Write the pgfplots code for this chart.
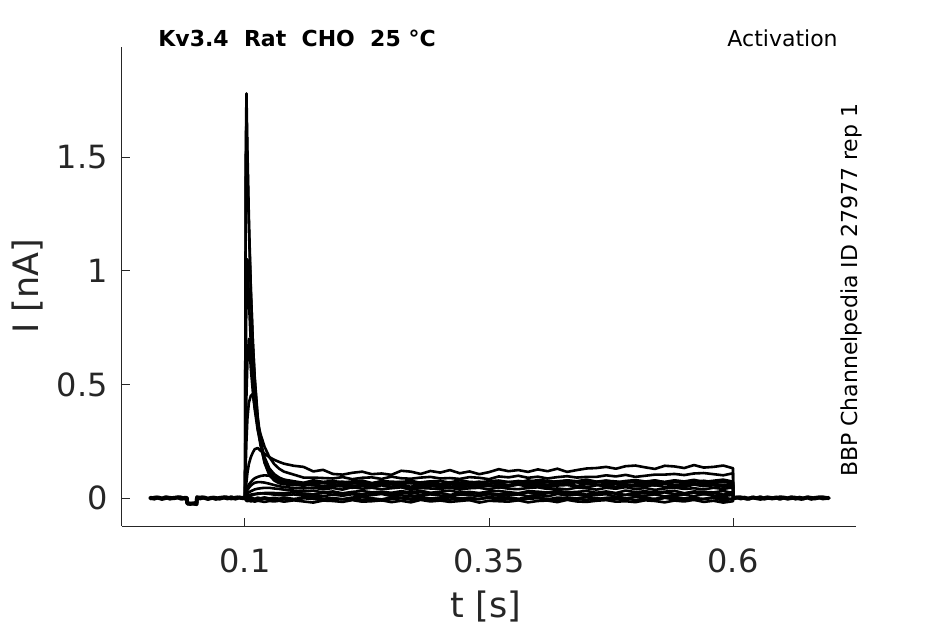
\documentclass[border=0pt]{standalone}
\usepackage{fontspec}
\setmainfont{DejaVu Sans}
\usepackage{pgfplots}
\usepackage{pgfplotstable}
\pgfplotsset{compat=1.18}
\definecolor{axgray}{HTML}{262626}

\pgfplotstableread{
t      a      b      c      d      e      f      g      h      i      j      k      l      m      n
0.1000 0      0      0      0      0      0      0      0      0      0      0      0      0      0
0.1008 1.50   1.40   0.60   0.30   0.15   0.04   0.02   0.01   0.005  0.002  -0.009 0.015  0.004  -0.003
0.1015 1.78   1.70   0.90   0.45   0.25   0.07   0.03   0.015  0.008  -0.003 -0.012 0.025  0.006  -0.005
0.1025 1.53   1.48   1.05   0.60   0.35   0.11   0.045  0.02   0.01   0.001  -0.014 0.035  0.008  -0.004
0.1040 1.23   1.19   0.87   0.70   0.42   0.15   0.06   0.025  0.012  -0.002 -0.011 0.045  0.010  -0.006
0.1060 0.92   0.91   0.68   0.57   0.45   0.18   0.07   0.03   0.015  0.003  -0.015 0.055  0.012  -0.005
0.1080 0.69   0.69   0.54   0.47   0.458  0.20   0.08   0.034  0.017  0      -0.013 0.062  0.014  -0.007
0.1100 0.52   0.53   0.43   0.39   0.40   0.215  0.087  0.038  0.018  -0.004 -0.016 0.067  0.016  -0.004
0.1130 0.35   0.36   0.31   0.30   0.33   0.22   0.093  0.041  0.02   0.002  -0.012 0.07   0.018  -0.006
0.1160 0.24   0.255  0.23   0.24   0.28   0.208  0.097  0.043  0.021  -0.001 -0.014 0.07   0.02   -0.005
0.1200 0.155  0.17   0.16   0.18   0.226  0.195  0.10   0.045  0.02   0.003  -0.017 0.068  0.022  -0.003
0.1250 0.10   0.11   0.115  0.13   0.18   0.18   0.098  0.045  0.018  -0.002 -0.013 0.063  0.023  -0.006
0.1300 0.077  0.085  0.09   0.105  0.149  0.168  0.093  0.042  0.015  0.001  -0.015 0.057  0.022  -0.004
0.1350 0.065  0.072  0.078  0.09   0.129  0.159  0.087  0.04   0.013  -0.003 -0.012 0.052  0.021  -0.007
0.1400 0.060  0.066  0.072  0.081  0.116  0.151  0.08   0.037  0.012  0.002  -0.016 0.048  0.021  -0.005
0.15 0.059 0.062 0.069 0.074 0.103 0.142 0.070 0.033 0.016 -0.004 -0.010 0.045 0.026 -0.009
0.16 0.054 0.057 0.065 0.067 0.090 0.137 0.060 0.029 0.010 0.001 -0.015 0.042 0.019 -0.001
0.17 0.061 0.064 0.073 0.078 0.090 0.117 0.057 0.033 0.013 0.006 -0.020 0.046 0.017 -0.004
0.18 0.052 0.066 0.066 0.071 0.088 0.124 0.046 0.024 0.008 -0.003 -0.011 0.038 0.022 -0.010
0.19 0.057 0.061 0.068 0.075 0.086 0.106 0.054 0.029 0.015 0.000 -0.013 0.044 0.025 -0.002
0.20 0.062 0.056 0.072 0.069 0.092 0.103 0.051 0.021 0.010 -0.005 -0.017 0.037 0.018 -0.006
0.21 0.053 0.065 0.064 0.073 0.083 0.111 0.045 0.027 0.017 0.002 -0.009 0.048 0.020 0.001
0.22 0.056 0.063 0.070 0.077 0.089 0.116 0.053 0.031 0.008 0.004 -0.016 0.041 0.016 -0.008
0.23 0.051 0.059 0.063 0.066 0.091 0.105 0.049 0.025 0.013 -0.001 -0.014 0.045 0.024 -0.003
0.24 0.058 0.067 0.074 0.074 0.084 0.108 0.056 0.028 0.018 -0.006 -0.010 0.039 0.021 -0.011
0.25 0.060 0.060 0.067 0.072 0.094 0.102 0.047 0.023 0.009 0.003 -0.018 0.043 0.015 -0.005
0.26 0.055 0.062 0.071 0.070 0.087 0.120 0.052 0.030 0.012 0.001 -0.012 0.047 0.023 -0.001
0.27 0.050 0.066 0.065 0.076 0.085 0.116 0.044 0.025 0.007 -0.003 -0.019 0.036 0.019 -0.007
0.28 0.059 0.058 0.069 0.067 0.090 0.106 0.050 0.032 0.014 0.005 -0.008 0.044 0.026 -0.004
0.29 0.057 0.064 0.073 0.073 0.093 0.119 0.054 0.023 0.016 -0.002 -0.015 0.042 0.017 -0.009
0.30 0.053 0.057 0.062 0.075 0.086 0.112 0.048 0.028 0.011 0.000 -0.011 0.040 0.022 -0.002
0.31 0.061 0.068 0.070 0.068 0.088 0.123 0.051 0.033 0.006 0.004 -0.017 0.046 0.014 -0.007
0.32 0.054 0.061 0.068 0.078 0.084 0.109 0.046 0.024 0.015 -0.004 -0.013 0.037 0.020 0.000
0.33 0.056 0.065 0.066 0.071 0.092 0.117 0.053 0.027 0.013 0.002 -0.009 0.043 0.024 -0.009
0.34 0.060 0.059 0.072 0.069 0.089 0.105 0.048 0.022 0.009 -0.005 -0.020 0.045 0.018 -0.004
0.35 0.052 0.063 0.063 0.074 0.083 0.114 0.055 0.029 0.017 0.006 -0.012 0.038 0.021 0.001
0.36 0.058 0.067 0.069 0.077 0.095 0.127 0.046 0.031 0.010 -0.001 -0.014 0.048 0.016 -0.008
0.37 0.051 0.056 0.071 0.070 0.091 0.118 0.051 0.026 0.012 0.003 -0.016 0.041 0.023 -0.005
0.38 0.065 0.068 0.068 0.075 0.098 0.123 0.059 0.021 0.016 -0.003 -0.010 0.039 0.018 -0.010
0.39 0.058 0.066 0.078 0.071 0.089 0.115 0.050 0.030 0.008 0.001 -0.019 0.044 0.025 -0.003
0.40 0.062 0.064 0.071 0.079 0.094 0.126 0.053 0.028 0.014 0.005 -0.013 0.047 0.016 -0.001
0.41 0.056 0.070 0.069 0.076 0.086 0.118 0.048 0.024 0.007 -0.006 -0.011 0.040 0.021 -0.006
0.42 0.060 0.061 0.074 0.070 0.092 0.129 0.055 0.032 0.018 0.002 -0.018 0.042 0.026 -0.011
0.43 0.064 0.067 0.077 0.078 0.096 0.115 0.057 0.025 0.011 0.000 -0.008 0.038 0.017 -0.002
0.44 0.053 0.069 0.070 0.074 0.090 0.123 0.052 0.027 0.015 -0.002 -0.015 0.046 0.020 -0.004
0.45 0.061 0.062 0.072 0.081 0.093 0.130 0.047 0.031 0.009 0.004 -0.017 0.043 0.015 -0.008
0.46 0.059 0.072 0.068 0.072 0.093 0.132 0.056 0.023 0.013 -0.005 -0.012 0.037 0.022 0.000
0.47 0.057 0.065 0.076 0.077 0.100 0.137 0.054 0.029 0.017 0.001 -0.009 0.045 0.024 -0.007
0.48 0.063 0.063 0.073 0.069 0.095 0.129 0.050 0.022 0.006 0.003 -0.016 0.041 0.019 -0.005
0.49 0.054 0.068 0.067 0.075 0.102 0.140 0.058 0.033 0.014 -0.004 -0.014 0.048 0.014 -0.001
0.50 0.060 0.071 0.075 0.079 0.093 0.143 0.051 0.026 0.012 0.006 -0.018 0.039 0.023 -0.009
0.51 0.062 0.064 0.071 0.073 0.098 0.135 0.053 0.030 0.010 -0.001 -0.010 0.044 0.021 -0.003
0.52 0.055 0.066 0.078 0.076 0.103 0.128 0.057 0.024 0.016 -0.003 -0.013 0.036 0.017 -0.010
0.53 0.065 0.062 0.069 0.071 0.103 0.142 0.049 0.028 0.007 0.002 -0.019 0.042 0.025 0.001
0.54 0.058 0.070 0.074 0.078 0.106 0.139 0.055 0.032 0.013 0.005 -0.011 0.046 0.018 -0.006
0.55 0.056 0.067 0.066 0.073 0.101 0.132 0.048 0.021 0.015 -0.002 -0.015 0.040 0.020 -0.002
0.56 0.061 0.061 0.072 0.080 0.108 0.145 0.059 0.029 0.008 0.000 -0.008 0.043 0.024 -0.008
0.57 0.064 0.069 0.076 0.071 0.110 0.134 0.052 0.027 0.018 -0.004 -0.017 0.038 0.016 -0.004
0.58 0.057 0.065 0.070 0.076 0.105 0.137 0.056 0.025 0.011 0.004 -0.012 0.045 0.022 0.000
0.59 0.059 0.072 0.073 0.081 0.100 0.143 0.050 0.031 0.009 0.001 -0.020 0.040 0.015 -0.011
0.60 0.055 0.063 0.068 0.072 0.109 0.131 0.054 0.022 0.014 -0.005 -0.014 0.047 0.026 -0.003
0.6001 0    0     0     0     0     0     0     0     0     0     0      0     0     0
}\traces

\begin{document}
\begin{tikzpicture}
\useasboundingbox (-61bp,-49bp) rectangle (411.5bp,263bp);
\begin{axis}[
  at={(0,0)}, anchor=south west,
  scale only axis, width=367bp, height=239.5bp,
  xmin=-0.026, xmax=0.726, ymin=-0.123, ymax=1.984,
  axis x line*=bottom, axis y line*=left,
  axis line style={color=axgray, line width=0.5bp, -},
  xtick={0.1,0.35,0.6}, ytick={0,0.5,1,1.5},
  tick align=inside, major tick length=4bp,
  every tick/.style={color=axgray, line width=0.5bp},
  /pgf/number format/assume math mode=true,
  tick label style={font=\fontsize{16bp}{19bp}\selectfont, text=axgray},
  xticklabel style={anchor=base, yshift=-23bp, inner sep=0pt},
  yticklabel style={anchor=east, inner sep=0pt, xshift=-7bp},
  xlabel={t [s]}, ylabel={I [nA]},
  label style={font=\fontsize{17.5bp}{21bp}\selectfont, text=axgray, inner sep=0pt},
  xlabel style={at={(axis description cs:0.496,0)}, anchor=base, yshift=-45.5bp},
  ylabel style={at={(axis description cs:-0.1144,0.5)}, anchor=base},
  clip=false,
  tr/.style={black, solid, line width=1.3bp, line join=round, mark=none},
  bl/.style={black, solid, line width=1.9bp, line join=round, line cap=round, mark=none},
]
\addplot[tr] table[x=t,y=n] {\traces};
\addplot[tr] table[x=t,y=k] {\traces};
\addplot[tr] table[x=t,y=j] {\traces};
\addplot[tr] table[x=t,y=i] {\traces};
\addplot[tr] table[x=t,y=m] {\traces};
\addplot[tr] table[x=t,y=h] {\traces};
\addplot[tr] table[x=t,y=l] {\traces};
\addplot[tr] table[x=t,y=g] {\traces};
\addplot[tr] table[x=t,y=a] {\traces};
\addplot[tr] table[x=t,y=b] {\traces};
\addplot[tr] table[x=t,y=c] {\traces};
\addplot[tr] table[x=t,y=d] {\traces};
\addplot[tr] table[x=t,y=e] {\traces};
\addplot[tr] table[x=t,y=f] {\traces};
% baseline before the pulse
\addplot[bl] coordinates {
(0.003,0.002) (0.007,-0.003) (0.011,0.003) (0.015,-0.002) (0.019,0.004) (0.023,-0.003)
(0.027,0.001) (0.031,0.003) (0.035,-0.004) (0.039,0.002) (0.0405,0.0) (0.0408,-0.022)
(0.044,-0.026) (0.048,-0.023) (0.0505,-0.020) (0.0508,0.004) (0.054,-0.002) (0.058,0.003)
(0.062,-0.003) (0.066,0.002) (0.070,-0.004) (0.074,0.001) (0.078,0.003) (0.082,-0.002)
(0.086,0.004) (0.090,-0.003) (0.094,0.002) (0.098,-0.001) (0.1,0.0)};
\addplot[bl] coordinates {
(0.003,-0.002) (0.009,0.003) (0.015,-0.004) (0.021,0.002) (0.027,-0.001) (0.033,0.004)
(0.039,-0.003) (0.0405,-0.001) (0.0408,-0.025) (0.046,-0.024) (0.0505,-0.027) (0.0508,0.001)
(0.056,0.003) (0.062,-0.004) (0.068,0.002) (0.074,-0.003) (0.080,0.004) (0.086,-0.002)
(0.092,0.003) (0.1,0.0)};
% baseline after the pulse
\addplot[bl] coordinates {
(0.6001,0.0) (0.604,0.003) (0.608,-0.002) (0.612,0.002) (0.616,-0.004) (0.620,0.003)
(0.624,-0.001) (0.628,0.004) (0.632,-0.003) (0.636,0.001) (0.640,-0.002) (0.644,0.003)
(0.648,-0.004) (0.652,0.002) (0.656,-0.001) (0.660,0.004) (0.664,-0.003) (0.668,0.002)
(0.672,-0.002) (0.676,0.003) (0.680,-0.004) (0.684,0.001) (0.688,0.003) (0.692,-0.002)
(0.698,0.001)};
\addplot[bl] coordinates {
(0.6001,-0.002) (0.607,0.004) (0.614,-0.003) (0.621,0.002) (0.628,-0.004) (0.635,0.003)
(0.642,-0.001) (0.649,0.004) (0.656,-0.003) (0.663,0.002) (0.670,-0.004) (0.677,0.003)
(0.684,-0.002) (0.691,0.004) (0.698,-0.001)};
\node[anchor=base west, inner sep=0pt, font=\bfseries\fontsize{11bp}{13bp}\selectfont]
  at (axis description cs:0.049,1.002) {Kv3.4~~Rat~~CHO~~25~°C};
\node[anchor=base east, inner sep=0pt, font=\fontsize{11bp}{13bp}\selectfont]
  at (axis description cs:0.9755,1.002) {Activation};
\node[rotate=90, anchor=base, inner sep=0pt, font=\fontsize{11bp}{13bp}\selectfont]
  at (axis description cs:1.0014,0.492) {BBP Channelpedia ID 27977 rep 1};
\end{axis}
\end{tikzpicture}
\end{document}
